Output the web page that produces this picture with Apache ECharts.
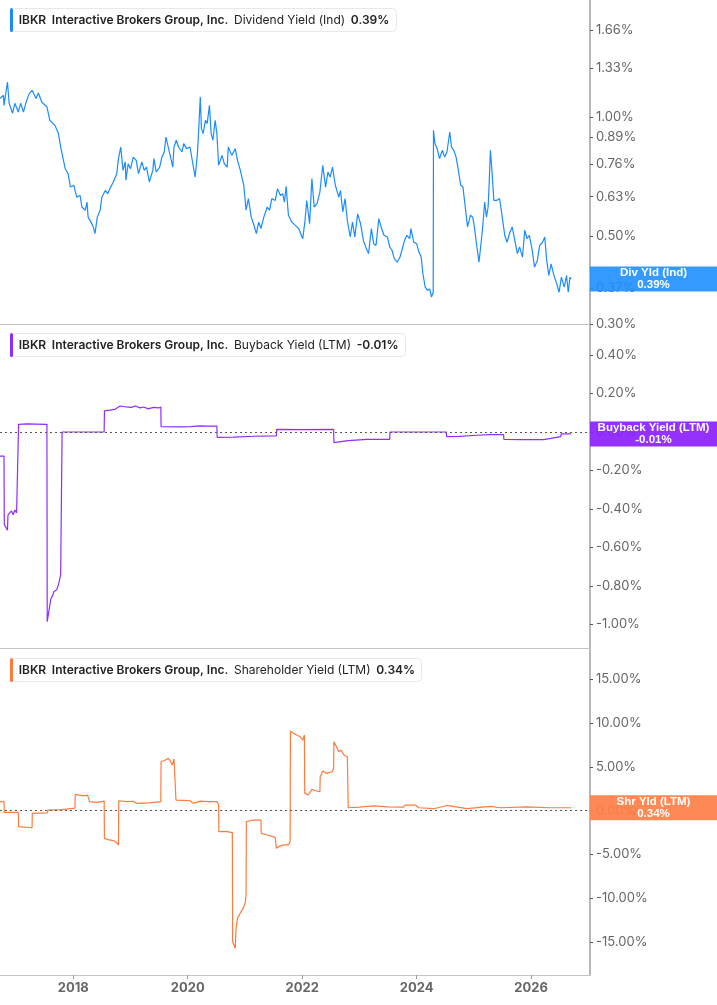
<!DOCTYPE html>
<html>
<head>
<meta charset="utf-8">
<script src="https://cdn.jsdelivr.net/npm/echarts@6/dist/echarts.min.js"></script>
<style>
html,body{margin:0;padding:0;background:#fff;}
#main{width:717px;height:1005px;}
</style>
</head>
<body>
<div id="main"></div>
<script>
// [decimal year, yield %]
var divYield = [
[2016.72,1.115],[2016.78,1.137],[2016.79,1.072],[2016.85,1.228],[2016.88,1.085],[2016.94,1.024],[2016.98,1.085],[2017.04,1.031],
[2017.08,1.085],[2017.13,1.031],[2017.17,1.085],[2017.23,1.148],[2017.28,1.170],[2017.35,1.115],[2017.39,1.152],[2017.45,1.093],
[2017.54,1.062],[2017.59,0.983],[2017.68,0.954],[2017.74,0.911],[2017.78,0.841],[2017.86,0.741],[2017.91,0.720],[2017.95,0.666],
[2018.01,0.673],[2018.06,0.628],[2018.12,0.634],[2018.15,0.593],[2018.21,0.582],[2018.24,0.610],[2018.26,0.559],[2018.31,0.543],
[2018.35,0.528],[2018.38,0.508],[2018.42,0.559],[2018.47,0.582],[2018.50,0.628],[2018.56,0.653],[2018.60,0.641],[2018.64,0.660],
[2018.70,0.686],[2018.76,0.720],[2018.79,0.786],[2018.83,0.841],[2018.87,0.734],[2018.91,0.771],[2018.92,0.693],[2018.96,0.763],
[2019.00,0.741],[2019.05,0.793],[2019.10,0.778],[2019.14,0.720],[2019.20,0.771],[2019.24,0.734],[2019.28,0.748],[2019.33,0.686],
[2019.39,0.734],[2019.41,0.786],[2019.45,0.727],[2019.51,0.748],[2019.55,0.793],[2019.59,0.817],[2019.62,0.891],[2019.66,0.841],
[2019.70,0.793],[2019.74,0.748],[2019.76,0.841],[2019.80,0.875],[2019.84,0.841],[2019.90,0.817],[2019.93,0.858],[2019.98,0.833],
[2020.04,0.841],[2020.09,0.763],[2020.13,0.706],[2020.17,0.809],[2020.19,0.918],[2020.22,1.126],[2020.24,0.936],[2020.27,0.909],
[2020.31,0.983],[2020.34,0.964],[2020.38,1.072],[2020.41,0.909],[2020.44,0.875],[2020.48,0.983],[2020.51,0.909],[2020.54,0.756],
[2020.60,0.801],[2020.64,0.763],[2020.69,0.748],[2020.71,0.841],[2020.77,0.801],[2020.83,0.833],[2020.87,0.778],[2020.92,0.734],
[2020.98,0.673],[2021.02,0.582],[2021.06,0.623],[2021.11,0.559],[2021.15,0.538],[2021.20,0.508],[2021.24,0.543],[2021.28,0.523],
[2021.33,0.559],[2021.39,0.593],[2021.43,0.582],[2021.47,0.623],[2021.53,0.616],[2021.57,0.660],[2021.62,0.634],[2021.66,0.641],
[2021.69,0.610],[2021.72,0.669],[2021.76,0.565],[2021.82,0.543],[2021.88,0.533],[2021.94,0.523],[2021.97,0.523],[2022.01,0.493],
[2022.05,0.548],[2022.08,0.616],[2022.13,0.538],[2022.17,0.700],[2022.21,0.593],[2022.26,0.605],[2022.31,0.647],[2022.36,0.756],
[2022.41,0.666],[2022.45,0.727],[2022.49,0.706],[2022.53,0.748],[2022.58,0.673],[2022.64,0.628],[2022.67,0.653],[2022.71,0.576],
[2022.75,0.623],[2022.79,0.548],[2022.84,0.498],[2022.88,0.543],[2022.92,0.498],[2022.97,0.570],[2023.02,0.538],[2023.07,0.488],
[2023.11,0.470],[2023.16,0.452],[2023.21,0.523],[2023.25,0.479],[2023.29,0.474],[2023.34,0.554],[2023.38,0.528],[2023.43,0.503],
[2023.49,0.498],[2023.53,0.470],[2023.57,0.461],[2023.61,0.439],[2023.66,0.430],[2023.71,0.443],[2023.75,0.465],[2023.79,0.488],
[2023.83,0.503],[2023.88,0.493],[2023.90,0.523],[2023.95,0.483],[2024.00,0.479],[2024.04,0.456],[2024.08,0.443],[2024.11,0.402],
[2024.15,0.372],[2024.19,0.365],[2024.23,0.368],[2024.26,0.351],[2024.29,0.361],[2024.295,0.927],[2024.32,0.858],[2024.36,0.833],
[2024.40,0.786],[2024.45,0.825],[2024.49,0.793],[2024.53,0.817],[2024.58,0.918],[2024.61,0.841],[2024.65,0.825],[2024.69,0.793],
[2024.73,0.734],[2024.77,0.673],[2024.81,0.666],[2024.85,0.593],[2024.89,0.528],[2024.94,0.565],[2024.98,0.559],[2025.01,0.528],
[2025.05,0.474],[2025.09,0.430],[2025.12,0.426],[2025.15,0.518],[2025.19,0.610],[2025.22,0.559],[2025.25,0.593],[2025.27,0.693],
[2025.29,0.825],[2025.32,0.720],[2025.35,0.616],[2025.40,0.616],[2025.45,0.623],[2025.50,0.554],[2025.54,0.503],[2025.58,0.483],
[2025.63,0.512],[2025.67,0.528],[2025.71,0.493],[2025.76,0.452],[2025.80,0.470],[2025.85,0.443],[2025.89,0.518],[2025.93,0.493],
[2025.97,0.503],[2026.02,0.461],[2026.06,0.418],[2026.11,0.434],[2026.15,0.474],[2026.20,0.483],[2026.24,0.498],[2026.27,0.439],
[2026.31,0.398],[2026.35,0.426],[2026.40,0.398],[2026.45,0.379],[2026.49,0.361],[2026.53,0.394],[2026.58,0.372],[2026.62,0.398],
[2026.65,0.361],[2026.68,0.394],[2026.70,0.390]
];

var buyback = [
[2016.72,-0.125],[2016.79,-0.125],[2016.795,-0.48],[2016.85,-0.51],[2016.86,-0.43],[2016.89,-0.44],[2016.92,-0.41],[2016.95,-0.43],
[2016.98,-0.405],[2017.01,-0.42],[2017.04,-0.41],[2017.045,0.04],[2017.2,0.042],[2017.35,0.041],[2017.54,0.04],[2017.545,-0.985],
[2017.58,-0.92],[2017.61,-0.865],[2017.64,-0.85],[2017.66,-0.83],[2017.68,-0.84],[2017.71,-0.82],[2017.74,-0.795],[2017.76,-0.77],
[2017.78,-0.74],[2017.80,-0.735],[2017.805,0],[2018.54,0],[2018.545,0.11],[2018.64,0.114],[2018.73,0.118],[2018.82,0.135],
[2018.85,0.125],[2018.93,0.13],[2019.02,0.128],[2019.08,0.135],[2019.17,0.125],[2019.23,0.13],[2019.31,0.12],[2019.40,0.128],
[2019.49,0.125],[2019.53,0.13],[2019.535,0.028],[2019.87,0.027],[2020.05,0.028],[2020.21,0.032],[2020.35,0.031],[2020.51,0.031],
[2020.515,-0.028],[2020.8,-0.027],[2021.15,-0.022],[2021.55,-0.02],[2021.555,0.014],[2022.0,0.012],[2022.55,0.014],[2022.555,-0.055],
[2022.8,-0.045],[2023.13,-0.038],[2023.53,-0.038],[2023.535,0],[2024.52,0],[2024.525,-0.024],[2024.75,-0.023],[2025.05,-0.017],
[2025.3,-0.014],[2025.52,-0.014],[2025.525,-0.038],[2025.85,-0.04],[2026.22,-0.04],[2026.52,-0.024],[2026.525,-0.01],[2026.70,-0.01]
];

var shrYield = [
[2016.72,1.03],[2016.79,1.03],[2016.795,-0.19],[2017.04,-0.19],[2017.045,-1.82],[2017.15,-1.88],[2017.28,-1.94],[2017.285,-0.3],
[2017.55,-0.25],[2017.555,0.08],[2017.80,0.12],[2017.805,0.34],[2018.03,0.3],[2018.035,1.87],[2018.18,1.7],[2018.25,1.78],
[2018.28,1.75],[2018.285,1.03],[2018.41,0.95],[2018.54,1.1],[2018.545,-3.15],[2018.61,-3.3],[2018.70,-3.4],[2018.76,-3.65],
[2018.79,-3.91],[2018.795,1.14],[2018.93,1.03],[2019.05,1.07],[2019.11,0.84],[2019.34,0.9],[2019.53,1.03],[2019.535,5.59],
[2019.61,5.78],[2019.66,5.97],[2019.70,5.59],[2019.73,5.21],[2019.76,5.9],[2019.79,5.78],[2019.795,1.22],[2019.93,1.18],
[2020.04,1.14],[2020.10,0.84],[2020.22,1.1],[2020.36,1.03],[2020.51,1.03],[2020.54,0.72],[2020.545,-2.39],[2020.69,-2.39],
[2020.78,-2.5],[2020.785,-14.94],[2020.83,-15.69],[2020.845,-13.41],[2020.87,-12.27],[2020.90,-11.9],[2020.93,-11.52],[2020.97,-11.1],
[2021.01,-10.38],[2021.02,-9.42],[2021.025,-1.25],[2021.15,-1.06],[2021.28,-1.06],[2021.285,-2.58],[2021.39,-2.77],[2021.53,-3.04],
[2021.55,-4.29],[2021.59,-4.1],[2021.68,-3.9],[2021.76,-3.9],[2021.79,-3.53],[2021.795,9.09],[2021.85,8.82],[2021.91,8.63],
[2021.97,8.4],[2022.01,8.06],[2022.04,8.63],[2022.045,1.98],[2022.11,1.79],[2022.17,2.43],[2022.23,2.28],[2022.31,2.17],
[2022.315,3.88],[2022.36,4.53],[2022.43,4.26],[2022.52,4.45],[2022.55,4.83],[2022.555,7.87],[2022.60,7.3],[2022.64,6.73],
[2022.68,6.92],[2022.73,6.35],[2022.79,6.16],[2022.80,6.16],[2022.805,0.34],[2023.0,0.4],[2023.25,0.55],[2023.5,0.45],
[2023.77,0.4],[2023.8,0.65],[2023.98,0.65],[2024.04,0.34],[2024.3,0.23],[2024.53,0.6],[2024.88,0.25],[2025.29,0.5],
[2025.46,0.34],[2025.93,0.45],[2026.33,0.34],[2026.70,0.34]
];

var yearTicks = [2018, 2020, 2022, 2024, 2026];
var divTicks = [0.30, 0.37, 0.50, 0.63, 0.76, 0.89, 1.00, 1.33, 1.66];
var buyTicks = [-1.0, -0.8, -0.6, -0.4, -0.2, 0, 0.2, 0.4];
var shrTicks = [-15, -10, -5, 0, 5, 10, 15];

var panels = [
    {name: 'Dividend Yield (Ind)', short: 'Div Yld (Ind)', color: '#1a8cff', box: 'rgba(30,143,255,0.9)', last: 0.39},
    {name: 'Buyback Yield (LTM)', short: 'Buyback Yield (LTM)', color: '#8f2cff', box: 'rgba(139,31,255,0.92)', last: -0.01},
    {name: 'Shareholder Yield (LTM)', short: 'Shr Yld (LTM)', color: '#ff7a3d', box: 'rgba(255,127,69,0.92)', last: 0.34}
];

var FONT = 'Inter, "Noto Sans", sans-serif';

var myChart = echarts.init(document.getElementById('main'));

function pct(v){ return v.toFixed(2) + '%'; }

function xAx(i, withLabels){
    return {
        type: 'value', gridIndex: i, min: 2016.72, max: 2027.03,
        splitLine: {show: false},
        axisLine: {show: true, onZero: false, lineStyle: {color: '#c4c4c4', width: 1}},
        axisTick: {show: withLabels, customValues: yearTicks, length: 4, lineStyle: {color: '#999'}},
        axisLabel: {show: withLabels, customValues: yearTicks, formatter: function(v){ return String(v); },
            color: '#666', fontWeight: 'bold', fontSize: 13, fontFamily: FONT, margin: 7}
    };
}

function yAx(i, type, min, max, ticks){
    return {
        type: type, gridIndex: i, position: 'right', min: min, max: max,
        splitLine: {show: false},
        axisLine: {show: true, onZero: false, lineStyle: {color: '#b8b8b8', width: 2}},
        axisTick: {show: true, customValues: ticks, length: 3, lineStyle: {color: '#555'}},
        axisLabel: {show: true, customValues: ticks, formatter: pct, color: '#666', fontSize: 13, fontFamily: FONT, margin: 6}
    };
}

function legendTitle(p, top){
    return {
        left: 10, top: top,
        text: '{bar|}  {b|IBKR}  {b|Interactive Brokers Group, Inc.}  {n|' + p.name + '}  {b|' + pct(p.last) + '}',
        backgroundColor: '#fff', borderColor: '#e8e8e8', borderWidth: 1, borderRadius: 4,
        padding: [0, 7, 0, 0],
        textStyle: {
            fontSize: 12, fontFamily: FONT, color: '#222',
            rich: {
                bar: {width: 3, height: 24, backgroundColor: p.color, borderRadius: 2},
                b: {fontSize: 12, fontWeight: 600, color: '#222', fontFamily: FONT},
                n: {fontSize: 12, fontWeight: 400, color: '#222', fontFamily: FONT}
            }
        }
    };
}

function endMark(p, withZero){
    var data = [];
    if (withZero) {
        data.push({yAxis: 0, label: {show: false}, lineStyle: {type: [2, 3], color: '#555', width: 1}});
    }
    data.push({
        yAxis: p.last,
        lineStyle: {color: 'rgba(0,0,0,0)', width: 0},
        label: {
            show: true, position: 'end', distance: 0,
            formatter: '{t|' + p.short + '}\n{t|' + pct(p.last) + '}',
            backgroundColor: p.box, width: 127, padding: [1, 0, 1, 0],
            rich: {t: {align: 'center', color: '#fff', fontWeight: 'bold', fontSize: 11.5, lineHeight: 11.5,
                fontFamily: '"Liberation Sans", Arial, sans-serif'}}
        }
    });
    return {silent: true, symbol: 'none', animation: false, data: data};
}

function line(i, data, p, withZero){
    return {
        type: 'line', xAxisIndex: i, yAxisIndex: i, data: data,
        showSymbol: false, animation: false,
        lineStyle: {color: p.color, width: 1.2},
        itemStyle: {color: p.color},
        markLine: endMark(p, withZero)
    };
}

var option = {
    backgroundColor: '#fff',
    animation: false,
    title: [legendTitle(panels[0], 8), legendTitle(panels[1], 333), legendTitle(panels[2], 658)],
    grid: [
        {left: 0, right: 127, top: 0, height: 324},
        {left: 0, right: 127, top: 324, height: 324},
        {left: 0, right: 127, top: 649, height: 326}
    ],
    xAxis: [xAx(0, false), xAx(1, false), xAx(2, true)],
    yAxis: [
        yAx(0, 'log', 0.30, 1.98, divTicks),
        yAx(1, 'value', -1.122, 0.561, buyTicks),
        yAx(2, 'value', -18.73, 18.44, shrTicks)
    ],
    series: [
        line(0, divYield, panels[0], false),
        line(1, buyback, panels[1], true),
        line(2, shrYield, panels[2], true)
    ]
};
myChart.setOption(option);
</script>
</body>
</html>
